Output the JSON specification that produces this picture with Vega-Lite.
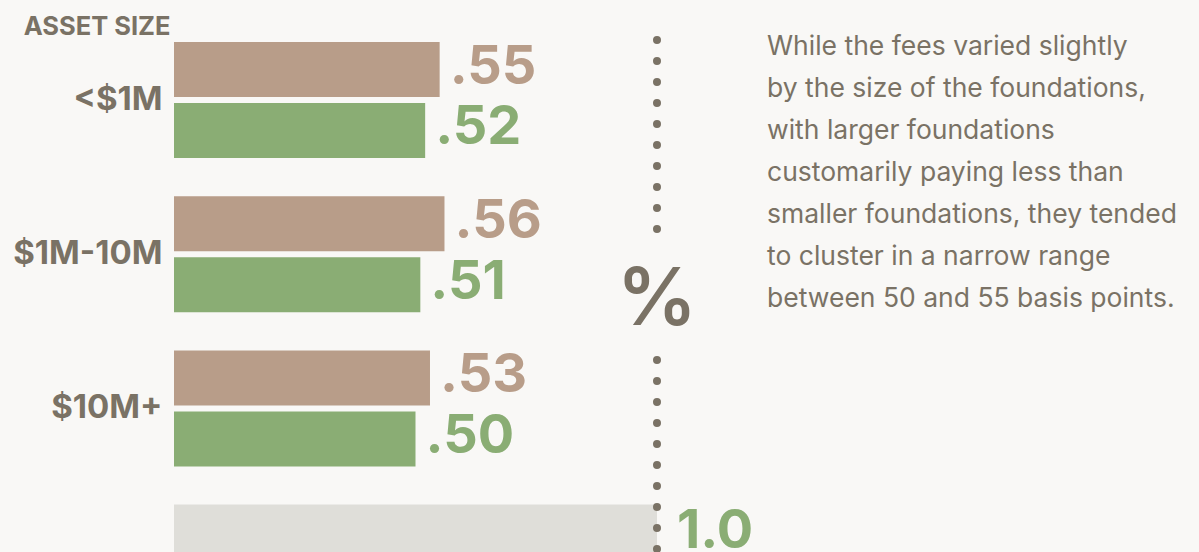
{
  "$schema": "https://vega.github.io/schema/vega-lite/v6.json",
  "width": 1025,
  "height": 552,
  "padding": {"left": 174, "top": 0, "right": 0, "bottom": 0},
  "autosize": {"type": "none"},
  "background": "#f9f8f6",
  "config": {"view": {"stroke": null}, "font": "Inter"},
  "title": {
    "text": ["While the fees varied slightly", "by the size of the foundations,", "with larger foundations", "customarily paying less than", "smaller foundations, they tended", "to cluster in a narrow range", "between 50 and 55 basis points."],
    "orient": "top",
    "anchor": "start",
    "frame": "group",
    "baseline": "top",
    "align": "left",
    "dx": 593,
    "dy": 320,
    "fontSize": 26.5,
    "fontWeight": "normal",
    "lineHeight": 42,
    "color": "#7a7265",
    "font": "Inter"
  },
  "data": {
    "values": [
      {"size": "<$1M", "series": "Group A", "value": 0.55, "label": ".55"},
      {"size": "<$1M", "series": "Group B", "value": 0.52, "label": ".52"},
      {"size": "$1M-10M", "series": "Group A", "value": 0.56, "label": ".56"},
      {"size": "$1M-10M", "series": "Group B", "value": 0.51, "label": ".51"},
      {"size": "$10M+", "series": "Group A", "value": 0.53, "label": ".53"},
      {"size": "$10M+", "series": "Group B", "value": 0.50, "label": ".50"}
    ]
  },
  "layer": [
    {
      "mark": {"type": "bar", "cornerRadius": 0},
      "encoding": {
        "x": {"field": "value", "type": "quantitative", "scale": {"domain": [0, 2.12215], "nice": false, "zero": true}, "axis": null},
        "y": {
          "field": "size", "type": "nominal",
          "scale": {"domain": ["<$1M", "$1M-10M", "$10M+", "Benchmark"], "range": [42, 620.6], "paddingInner": 0.2477, "paddingOuter": 0},
          "axis": {
            "domain": false, "ticks": false, "grid": false,
            "labelPadding": 12, "labelFontSize": 33, "labelFontWeight": "bold", "labelColor": "#7a7265", "labelFont": "Inter",
            "labelExpr": "datum.value == 'Benchmark' ? '' : datum.label",
            "title": "ASSET SIZE", "titleAngle": 0, "titleAlign": "right", "titleBaseline": "alphabetic",
            "titleX": -4, "titleY": 34, "titleFontSize": 25.5, "titleFontWeight": "bold", "titleColor": "#7a7265", "titleFont": "Inter"
          }
        },
        "yOffset": {"field": "series", "type": "nominal", "scale": {"domain": ["Group A", "Group B"], "paddingInner": 0.098, "paddingOuter": 0}},
        "color": {"field": "series", "type": "nominal", "scale": {"domain": ["Group A", "Group B"], "range": ["#b89d89", "#8aad74"]}, "legend": null}
      }
    },
    {
      "mark": {"type": "text", "align": "left", "baseline": "middle", "dx": 10, "dy": -2, "fontSize": 54, "fontWeight": "bold", "font": "Inter"},
      "encoding": {
        "x": {"field": "value", "type": "quantitative"},
        "y": {"field": "size", "type": "nominal"},
        "yOffset": {"field": "series", "type": "nominal"},
        "text": {"field": "label"},
        "color": {"field": "series", "type": "nominal", "legend": null}
      }
    },
    {
      "data": {"values": [{"size": "Benchmark", "value": 1.0, "label": "1.0"}]},
      "mark": {"type": "bar", "color": "#dfded9"},
      "encoding": {
        "x": {"field": "value", "type": "quantitative"},
        "y": {"field": "size", "type": "nominal"},
        "yOffset": {"datum": "Group A"}
      }
    },
    {
      "data": {"values": [{"size": "Benchmark", "value": 1.0, "label": "1.0"}]},
      "mark": {"type": "text", "align": "left", "baseline": "middle", "dx": 20, "fontSize": 54, "fontWeight": "bold", "font": "Inter", "color": "#8aad74"},
      "encoding": {
        "x": {"field": "value", "type": "quantitative"},
        "y": {"field": "size", "type": "nominal"},
        "yOffset": {"datum": "Group A"},
        "text": {"field": "label"}
      }
    },
    {
      "data": {"values": [{"value": 1.0}]},
      "mark": {
        "type": "rule", "color": "#7a7265", "strokeWidth": 8, "strokeCap": "round",
        "strokeDash": [0.01, 20.99, 0.01, 20.99, 0.01, 20.99, 0.01, 20.99, 0.01, 20.99, 0.01, 20.99, 0.01, 20.99, 0.01, 20.99, 0.01, 20.99, 0.01, 130.99, 0.01, 20.99, 0.01, 20.99, 0.01, 20.99, 0.01, 20.99, 0.01, 20.99, 0.01, 20.99, 0.01, 20.99, 0.01, 20.99, 0.01, 20.99, 0.01, 1000],
        "strokeDashOffset": 1469.01
      },
      "encoding": {
        "x": {"field": "value", "type": "quantitative"}
      }
    },
    {
      "data": {"values": [{"value": 1.0, "size": "$1M-10M", "sign": "%"}]},
      "mark": {"type": "text", "align": "center", "baseline": "middle", "dy": 16, "fontSize": 80, "fontWeight": 600, "font": "Inter", "color": "#7a7265"},
      "encoding": {
        "x": {"field": "value", "type": "quantitative"},
        "y": {"field": "size", "type": "nominal"},
        "yOffset": {"datum": "Group B"},
        "text": {"field": "sign"}
      }
    }
  ]
}
